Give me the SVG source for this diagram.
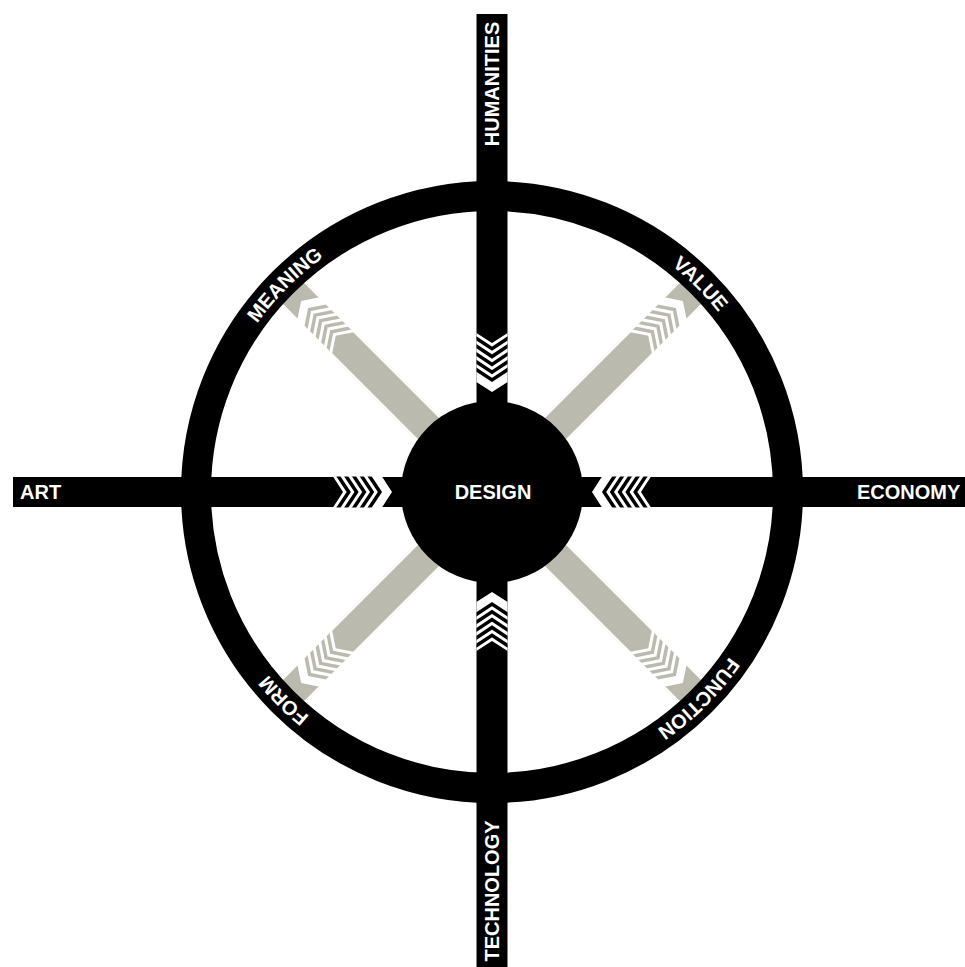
<svg xmlns="http://www.w3.org/2000/svg" width="965" height="967" viewBox="0 0 965 967">
  <style>
    .lbl { font-family: "Liberation Sans", Arial, Helvetica, sans-serif; font-weight: bold; font-size: 20px; fill: #ffffff; }
    .blk { fill: #000000; }
    .gry { fill: #babaae; }
  </style>
  <defs>
    <clipPath id="cb"><rect x="-15.5" y="-200" width="31" height="150"/></clipPath>
    <clipPath id="cg"><rect x="-15" y="-320" width="30" height="300"/></clipPath>
    <!-- inward chevron cut on a black bar (arrow toward centre, local +y) -->
    <g id="chevB" clip-path="url(#cb)">
      <polygon points="-17,-160 0,-149 17,-160 17,-111 0,-100 -17,-111" fill="#ffffff"/>
      <g fill="none" stroke="#000000" stroke-width="3.5">
        <polyline points="-20,-156.5 0,-143.25 20,-156.5"/>
        <polyline points="-20,-148.7 0,-135.45 20,-148.7"/>
        <polyline points="-20,-140.9 0,-127.65 20,-140.9"/>
        <polyline points="-20,-133.1 0,-119.85 20,-133.1"/>
        <polyline points="-20,-125.3 0,-112.05 20,-125.3"/>
      </g>
    </g>
    <!-- outward grey arrow (local -y outward) -->
    <g id="arrG" clip-path="url(#cg)">
      <polygon class="gry" points="-15,-60 -15,-211 0,-221 15,-211 15,-60"/>
      <polygon class="gry" points="-15,-260 0,-270 15,-260 15,-305 -15,-305"/>
      <g fill="none" stroke="#babaae" stroke-width="3.5">
        <polyline points="-20,-213.4 0,-226.75 20,-213.4"/>
        <polyline points="-20,-221.2 0,-234.55 20,-221.2"/>
        <polyline points="-20,-229 0,-242.35 20,-229"/>
        <polyline points="-20,-236.8 0,-250.15 20,-236.8"/>
        <polyline points="-20,-244.6 0,-257.95 20,-244.6"/>
      </g>
    </g>
    <path id="ringText" d="M 781 492 A 289 289 0 1 1 203 492 A 289 289 0 1 1 781 492"/>
  </defs>

  <rect x="0" y="0" width="965" height="967" fill="#ffffff"/>

  <g id="connectors">
    <g id="grey-arrows">
      <use href="#arrG" transform="translate(492,492) rotate(-45)"/>
      <use href="#arrG" transform="translate(492,492) rotate(45)"/>
      <use href="#arrG" transform="translate(492,492) rotate(135)"/>
      <use href="#arrG" transform="translate(492,492) rotate(-135)"/>
    </g>
    <g id="bars">
      <rect class="blk" x="476.5" y="14" width="31" height="953"/>
      <rect class="blk" x="13" y="477" width="952" height="30"/>
      <use href="#chevB" transform="translate(492,492)"/>
      <use href="#chevB" transform="translate(492,492) rotate(90)"/>
      <use href="#chevB" transform="translate(492,492) rotate(180)"/>
      <use href="#chevB" transform="translate(492,492) rotate(-90)"/>
    </g>
  </g>

  <g id="ring">
    <circle cx="492" cy="492" r="296" fill="none" stroke="#000000" stroke-width="30"/>
    <text class="lbl" text-anchor="middle"><textPath href="#ringText" startOffset="12.5%">FUNCTION</textPath></text>
    <text class="lbl" text-anchor="middle"><textPath href="#ringText" startOffset="37.5%">FORM</textPath></text>
    <text class="lbl" text-anchor="middle"><textPath href="#ringText" startOffset="62.5%">MEANING</textPath></text>
    <text class="lbl" text-anchor="middle"><textPath href="#ringText" startOffset="87.5%">VALUE</textPath></text>
  </g>

  <g id="design">
    <circle cx="492" cy="492" r="91" class="blk"/>
    <text class="lbl" x="493" y="499" text-anchor="middle">DESIGN</text>
  </g>

  <g id="humanities">
    <text class="lbl" text-anchor="middle" transform="translate(499,84) rotate(-90)">HUMANITIES</text>
  </g>
  <g id="technology">
    <text class="lbl" text-anchor="middle" transform="translate(499,891) rotate(-90)">TECHNOLOGY</text>
  </g>
  <g id="art">
    <text class="lbl" x="20" y="499">ART</text>
  </g>
  <g id="economy">
    <text class="lbl" x="857" y="499">ECONOMY</text>
  </g>
</svg>
